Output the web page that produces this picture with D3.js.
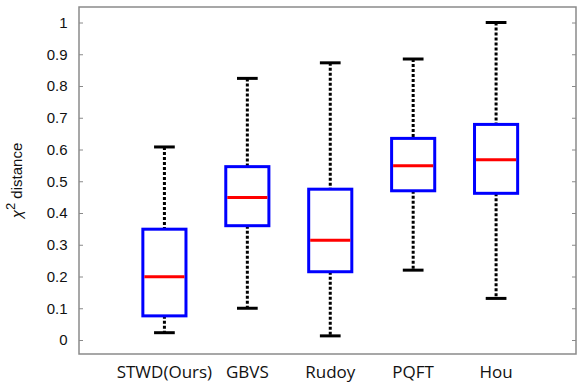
<!DOCTYPE html>
<html>
<head>
<meta charset="utf-8">
<script src="https://cdn.jsdelivr.net/npm/d3@7"></script>
<style>
  body { margin: 0; background: #fff; }
  svg { display: block; }
</style>
</head>
<body>
<div id="chart"></div>
<script>
// box plot data
var methods   = ["STWD(Ours)", "GBVS", "Rudoy", "PQFT", "Hou"];
var whiskLow  = [0.023, 0.100, 0.013, 0.220, 0.131];
var q1        = [0.076, 0.360, 0.215, 0.470, 0.462];
var medians   = [0.199, 0.449, 0.314, 0.549, 0.568];
var q3        = [0.349, 0.546, 0.475, 0.635, 0.679];
var whiskHigh = [0.608, 0.824, 0.873, 0.885, 1.000];
var yTicks    = [0, 0.1, 0.2, 0.3, 0.4, 0.5, 0.6, 0.7, 0.8, 0.9, 1];

var W = 577, H = 385;
var frame = {left: 79, right: 576, top: 7, bottom: 354};

var svg = d3.select("#chart").append("svg")
    .attr("width", W)
    .attr("height", H);

var x = d3.scaleLinear().domain([0, 6]).range([81.5, 579]);
var y = d3.scaleLinear().domain([0, 1]).range([340, 22.5]);

var boxes = methods.map((m, i) => ({
    name: m, pos: i + 1,
    lo: whiskLow[i], q1: q1[i], med: medians[i], q3: q3[i], hi: whiskHigh[i]
}));

// frame
svg.append("rect")
    .attr("x", frame.left)
    .attr("y", frame.top)
    .attr("width", frame.right - frame.left)
    .attr("height", frame.bottom - frame.top)
    .style("fill", "none")
    .style("stroke", "#8a8a8a")
    .style("stroke-width", 1.5);

// left axis, ticks pointing inward
var yAxis = svg.append("g")
    .attr("class", "y axis")
    .attr("transform", "translate(" + frame.left + ",0)")
    .call(d3.axisLeft(y).tickValues(yTicks).tickSize(-4).tickPadding(11.5)
        .tickFormat(d => d === 0 || d === 1 ? String(d) : d3.format(".1f")(d)));
yAxis.select(".domain").remove();
yAxis.selectAll("line").style("stroke", "#8a8a8a");
yAxis.selectAll("text")
    .style("font-family", "Liberation Sans, Arial, sans-serif")
    .style("font-size", "15px")
    .style("fill", "#111");

// right side ticks
var yRight = svg.append("g")
    .attr("transform", "translate(" + frame.right + ",0)")
    .call(d3.axisRight(y).tickValues(yTicks).tickSize(-4).tickFormat(""));
yRight.select(".domain").remove();
yRight.selectAll("line").style("stroke", "#8a8a8a");

// y label
var ylab = svg.append("text")
    .attr("transform", "translate(22," + ((frame.top + frame.bottom) / 2) + ") rotate(-90)")
    .attr("text-anchor", "middle")
    .style("font-family", "Liberation Sans, Arial, sans-serif")
    .style("font-size", "15px")
    .style("fill", "#111");
ylab.append("tspan").style("font-style", "italic").text("\u03c7");
ylab.append("tspan").attr("dy", -7).style("font-size", "13px").text("2");
ylab.append("tspan").attr("dy", 7).text(" distance");

// x labels
svg.selectAll(".xlabel")
    .data(boxes)
    .enter().append("text")
    .attr("class", "xlabel")
    .attr("x", d => x(d.pos))
    .attr("y", 378)
    .attr("text-anchor", "middle")
    .style("font-family", "Open Sans, sans-serif")
    .style("font-size", "17px")
    .style("fill", "#111")
    .text(d => d.name);

var boxW = 0.52, capW = 0.25;

var g = svg.selectAll(".box")
    .data(boxes)
    .enter().append("g")
    .attr("class", "box");

// dashed whiskers
g.append("line")
    .attr("x1", d => x(d.pos)).attr("x2", d => x(d.pos))
    .attr("y1", d => y(d.hi)).attr("y2", d => y(d.q3))
    .style("stroke", "#000").style("stroke-width", 3)
    .style("stroke-dasharray", "3,2");
g.append("line")
    .attr("x1", d => x(d.pos)).attr("x2", d => x(d.pos))
    .attr("y1", d => y(d.q1)).attr("y2", d => y(d.lo))
    .style("stroke", "#000").style("stroke-width", 3)
    .style("stroke-dasharray", "3,2");

// caps
g.append("line")
    .attr("x1", d => x(d.pos - capW / 2)).attr("x2", d => x(d.pos + capW / 2))
    .attr("y1", d => y(d.hi)).attr("y2", d => y(d.hi))
    .style("stroke", "#000").style("stroke-width", 3);
g.append("line")
    .attr("x1", d => x(d.pos - capW / 2)).attr("x2", d => x(d.pos + capW / 2))
    .attr("y1", d => y(d.lo)).attr("y2", d => y(d.lo))
    .style("stroke", "#000").style("stroke-width", 3);

// boxes
g.append("rect")
    .attr("x", d => x(d.pos - boxW / 2))
    .attr("y", d => y(d.q3))
    .attr("width", d => x(d.pos + boxW / 2) - x(d.pos - boxW / 2))
    .attr("height", d => y(d.q1) - y(d.q3))
    .style("fill", "#fff")
    .style("stroke", "#0000ff")
    .style("stroke-width", 3);

// medians
g.append("line")
    .attr("x1", d => x(d.pos - boxW / 2) + 1.5).attr("x2", d => x(d.pos + boxW / 2) - 1.5)
    .attr("y1", d => y(d.med)).attr("y2", d => y(d.med))
    .style("stroke", "#ff0000").style("stroke-width", 3);
</script>
</body>
</html>
